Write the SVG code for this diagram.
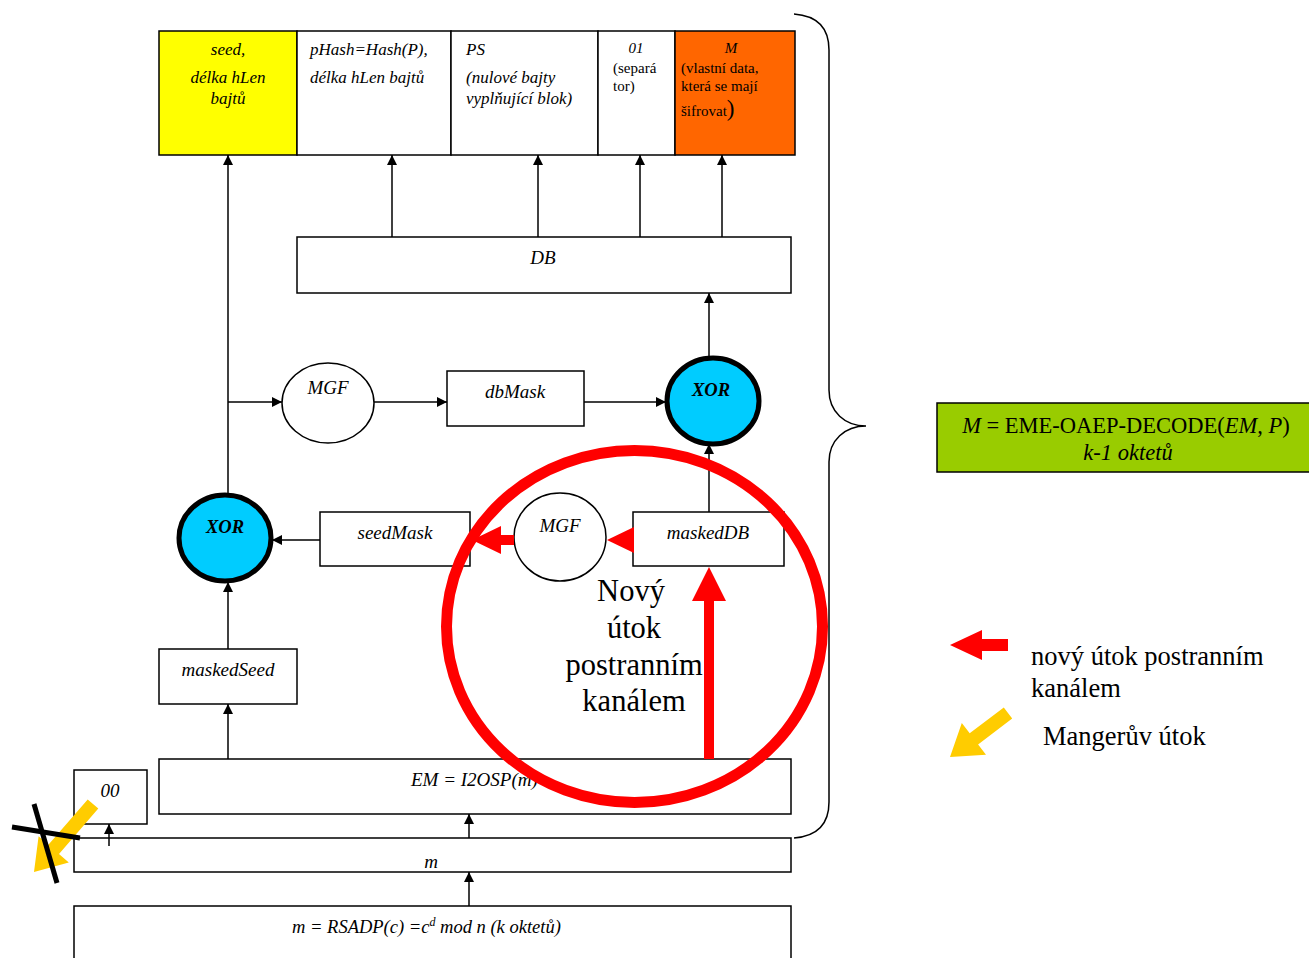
<svg xmlns="http://www.w3.org/2000/svg" width="1309" height="958" viewBox="0 0 1309 958">
<style>
.bx{fill:#fff;stroke:#000;stroke-width:1.5}
.ln{fill:none;stroke:#000;stroke-width:1.5}
.t{font-family:"Liberation Serif",serif;font-style:italic;font-size:17px;fill:#000}
.tm{font-family:"Liberation Serif",serif;font-style:italic;font-size:19px;fill:#000}
.tn{font-family:"Liberation Serif",serif;font-size:15px;fill:#000}
.xor{fill:#00ccff;stroke:#000;stroke-width:5}
.xt{font-family:"Liberation Serif",serif;font-style:italic;font-weight:bold;font-size:18.5px}
.big{font-family:"Liberation Serif",serif;font-size:30.5px;fill:#000}
.leg{font-family:"Liberation Serif",serif;font-size:26.5px;fill:#000}
.red{fill:#ff0000}
.yel{fill:#ffcc00}
</style>
<defs>
<marker id="ah" markerWidth="10" markerHeight="10" refX="10" refY="5" orient="auto" markerUnits="userSpaceOnUse">
<path d="M0,0 L10,5 L0,10 Z" fill="#000"/>
</marker>
</defs>
<rect width="1309" height="958" fill="#fff"/>

<g id="top-seed"><rect x="159" y="31" width="138" height="124" fill="#ffff00" stroke="#000" stroke-width="1.5"/>
<text class="t" text-anchor="middle" x="228" y="55">seed,</text>
<text class="t" text-anchor="middle" x="228" y="83">délka hLen</text>
<text class="t" text-anchor="middle" x="228" y="104">bajtů</text></g>
<g id="top-phash"><rect class="bx" x="297" y="31" width="154" height="124"/>
<text class="t" x="310" y="55">pHash=Hash(P),</text>
<text class="t" x="310" y="83">délka hLen bajtů</text></g>
<g id="top-ps"><rect class="bx" x="451" y="31" width="147" height="124"/>
<text class="t" x="466" y="55">PS</text>
<text class="t" x="466" y="83">(nulové bajty</text>
<text class="t" x="466" y="104">vyplňující blok)</text></g>
<g id="top-01"><rect class="bx" x="598" y="31" width="77" height="124"/>
<text class="t" style="font-size:15px" text-anchor="middle" x="636" y="53">01</text>
<text class="tn" x="613" y="73">(separá</text>
<text class="tn" x="613" y="91">tor)</text></g>
<g id="top-m"><rect x="675" y="31" width="120" height="124" fill="#ff6600" stroke="#000" stroke-width="1.5"/>
<text class="t" style="font-size:15px" text-anchor="middle" x="731" y="53">M</text>
<text class="tn" x="681" y="73">(vlastní data,</text>
<text class="tn" x="681" y="91">která se mají</text>
<text class="tn" x="681" y="116">šifrovat<tspan style="font-size:23px">)</tspan></text></g>

<g id="db"><rect class="bx" x="297" y="237" width="494" height="56"/>
<text class="tm" text-anchor="middle" x="543" y="264">DB</text></g>

<g id="mgf1"><ellipse cx="328" cy="403" rx="46" ry="40" fill="#fff" stroke="#000" stroke-width="1.5"/>
<text class="tm" text-anchor="middle" x="328" y="394">MGF</text></g>
<g id="dbmask"><rect class="bx" x="447" y="371" width="137" height="55"/>
<text class="tm" text-anchor="middle" x="515" y="398">dbMask</text></g>
<g id="xor1"><ellipse class="xor" cx="713" cy="401" rx="46" ry="43"/>
<text class="xt" text-anchor="middle" x="711" y="396">XOR</text></g>

<g id="xor2"><ellipse class="xor" cx="225" cy="538" rx="46" ry="43"/>
<text class="xt" text-anchor="middle" x="225" y="533">XOR</text></g>
<g id="seedmask"><rect class="bx" x="320" y="512" width="150" height="54"/>
<text class="tm" text-anchor="middle" x="395" y="539">seedMask</text></g>
<g id="mgf2"><ellipse cx="560" cy="537" rx="46" ry="44" fill="#fff" stroke="#000" stroke-width="1.5"/>
<text class="tm" text-anchor="middle" x="560" y="532">MGF</text></g>
<g id="maskeddb"><rect class="bx" x="633" y="512" width="151" height="54"/>
<text class="tm" text-anchor="middle" x="708" y="539">maskedDB</text></g>

<g id="maskedseed"><rect class="bx" x="159" y="649" width="138" height="55"/>
<text class="tm" text-anchor="middle" x="228" y="676">maskedSeed</text></g>
<g id="em"><rect class="bx" x="159" y="759" width="632" height="55"/>
<text class="tm" x="411" y="786">EM = I2OSP(m)</text></g>
<g id="zero"><rect class="bx" x="74" y="770" width="73" height="54"/>
<text class="tm" text-anchor="middle" x="110" y="797">00</text></g>
<g id="m"><rect class="bx" x="74" y="838" width="717" height="34"/>
<text class="tm" text-anchor="middle" x="431" y="868">m</text></g>
<g id="rsadp"><rect class="bx" x="74" y="906" width="717" height="60"/>
<text class="tm" style="font-size:18.5px" x="292" y="933">m = RSADP(c) =c<tspan dy="-7" style="font-size:12px">d</tspan><tspan dy="7"> mod n (k oktetů)</tspan></text></g>

<g id="connectors">
<line class="ln" x1="228" y1="495" x2="228" y2="155" marker-end="url(#ah)"/>
<line class="ln" x1="392" y1="237" x2="392" y2="155" marker-end="url(#ah)"/>
<line class="ln" x1="538" y1="237" x2="538" y2="155" marker-end="url(#ah)"/>
<line class="ln" x1="640" y1="237" x2="640" y2="155" marker-end="url(#ah)"/>
<line class="ln" x1="722" y1="237" x2="722" y2="155" marker-end="url(#ah)"/>
<line class="ln" x1="709" y1="357" x2="709" y2="293" marker-end="url(#ah)"/>
<line class="ln" x1="228" y1="402" x2="282" y2="402" marker-end="url(#ah)"/>
<line class="ln" x1="374" y1="402" x2="447" y2="402" marker-end="url(#ah)"/>
<line class="ln" x1="584" y1="402" x2="666" y2="402" marker-end="url(#ah)"/>
<line class="ln" x1="709" y1="512" x2="709" y2="444" marker-end="url(#ah)"/>
<line class="ln" x1="320" y1="540" x2="272" y2="540" marker-end="url(#ah)"/>
<line class="ln" x1="228" y1="649" x2="228" y2="582" marker-end="url(#ah)"/>
<line class="ln" x1="228" y1="759" x2="228" y2="704" marker-end="url(#ah)"/>
<line class="ln" x1="469" y1="838" x2="469" y2="814" marker-end="url(#ah)"/>
<line class="ln" x1="109" y1="846" x2="109" y2="824" marker-end="url(#ah)"/>
<line class="ln" x1="469" y1="906" x2="469" y2="872" marker-end="url(#ah)"/>
<path class="ln" d="M794,14 C820,16 829,30 829,50 L829,390 C829,412 845,426 866,426 C845,426 829,440 829,462 L829,802 C829,822 820,836 794,838"/>
</g>

<g id="green"><rect x="937" y="403" width="380" height="69" fill="#99cc00" stroke="#000" stroke-width="1.5"/>
<text x="1126" y="433" text-anchor="middle" style="font-family:'Liberation Serif',serif;font-size:22.5px"><tspan font-style="italic">M</tspan> = EME-OAEP-DECODE(<tspan font-style="italic">EM</tspan>, <tspan font-style="italic">P</tspan>)</text>
<text x="1128" y="460" text-anchor="middle" style="font-family:'Liberation Serif',serif;font-style:italic;font-size:22.5px">k-1 oktetů</text></g>

<g id="attack">
<ellipse cx="634.5" cy="626.5" rx="188" ry="176" fill="none" stroke="#ff0000" stroke-width="11"/>
<polygon class="red" points="607,540 634,527 634,553"/>
<polygon class="red" points="472,540 501,526 501,535 514,535 514,545 501,545 501,554"/>
<polygon class="red" points="709,567 726,601 714,601 714,759 704,759 704,601 692,601"/>
<text class="big" text-anchor="middle" x="631" y="601">Nový</text>
<text class="big" text-anchor="middle" x="634" y="638">útok</text>
<text class="big" text-anchor="middle" x="634" y="675">postranním</text>
<text class="big" text-anchor="middle" x="634" y="711">kanálem</text>
</g>

<g id="manger">
<polygon class="yel" points="34,872 38.6,836.2 48.4,844.7 87.7,799.4 98.3,808.6 59,853.9 68.8,862.4"/>
<line x1="12" y1="827" x2="80" y2="838" stroke="#000" stroke-width="5"/>
<line x1="34" y1="804" x2="57" y2="883" stroke="#000" stroke-width="5"/>
</g>

<g id="legend">
<polygon class="red" points="950,645 982,630 982,639 1008,639 1008,651 982,651 982,660"/>
<text class="leg" x="1031" y="665">nový útok postranním</text>
<text class="leg" x="1031" y="697">kanálem</text>
<polygon class="yel" points="950,757 961.8,723 969.7,733.3 1003.8,707.4 1012.2,718.6 978.1,744.5 986,754.8"/>
<text class="leg" x="1043" y="745">Mangerův útok</text>
</g>
</svg>
